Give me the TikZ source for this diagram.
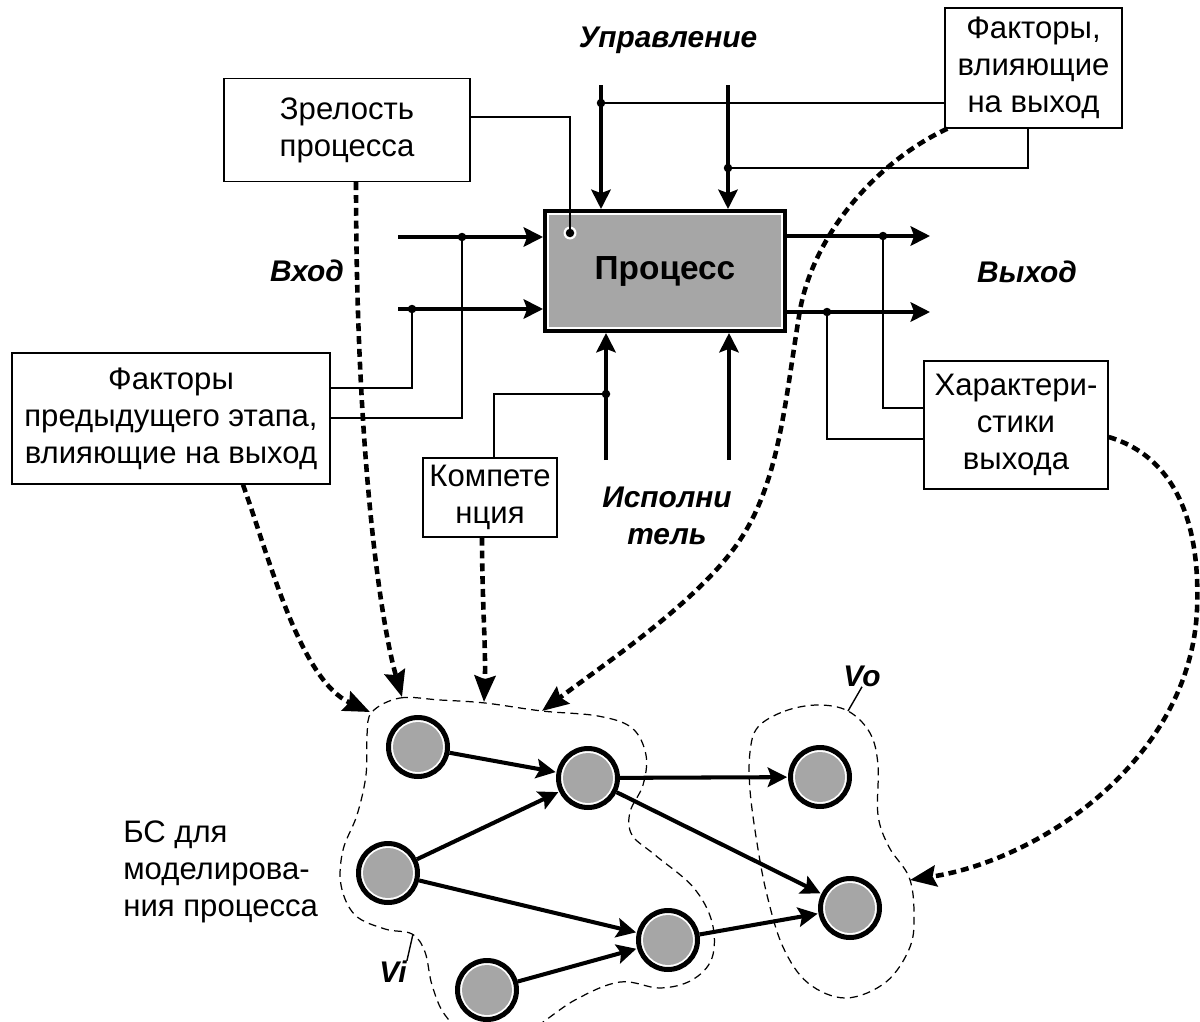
\documentclass[tikz,border=0pt]{standalone}
\usepackage{fontspec}
\setmainfont{Liberation Sans}
\usetikzlibrary{arrows.meta,calc}
\definecolor{fillgrey}{HTML}{A6A6A6}

\begin{document}
\begin{tikzpicture}[x=0.02cm,y=-0.02cm,
  every node/.style={font=\fontsize{17.7}{21}\selectfont},
  box/.style={draw, line width=0.8pt, align=center, inner sep=0pt},
  lbl/.style={font=\fontsize{17}{21}\selectfont\bfseries\itshape, align=center, inner sep=0pt},
  wire/.style={line width=0.9pt},
  thickarr/.style={line width=2.3pt, -{Stealth[length=11pt,width=11pt,inset=2pt]}},
  garr/.style={line width=2.3pt, -{Stealth[length=11pt,width=11pt,inset=2pt]}, shorten >=0.5pt},
  dotarr/.style={line width=2.6pt, dash pattern=on 4.5pt off 2.8pt, -{Stealth[length=15pt,width=12pt,inset=2pt]}},
  blob/.style={line width=0.7pt, dash pattern=on 4.5pt off 3pt},
  jdot/.style={circle, fill=black, inner sep=0pt, minimum size=0.17cm},
  gnode/.style={circle, draw, line width=0.1cm, minimum size=1.18cm, inner sep=0pt, fill=white,
    path picture={\fill[fillgrey] (path picture bounding box.center) circle (0.5cm);}},
]
\useasboundingbox (0,0) rectangle (1200,1021);
\clip (0,0) rectangle (1200,1021);

% ---------- process block ----------
\node[draw, line width=0.08cm, fill=fillgrey, minimum width=4.8cm, minimum height=2.4cm, inner sep=0pt] (proc) at (665,271) {};
\draw[white, line width=1.2pt] ([shift={(0.1cm,-0.1cm)}]proc.north west) rectangle ([shift={(-0.1cm,0.1cm)}]proc.south east);
\node[font=\fontsize{19}{23}\selectfont\bfseries] (ptext) at (proc.center) {Процесс};

% ---------- text boxes ----------
\node[box, minimum width=4.92cm, minimum height=2.06cm] (zrel) at (347,130) {Зрелость\\процесса};
\node[box, minimum width=3.54cm, minimum height=2.4cm] (fout) at (1033.5,68) {Факторы,\\влияющие\\на выход};
\node[box, minimum width=6.36cm, minimum height=2.62cm] (fpred) at (171,418.5) {Факторы\\предыдущего этапа,\\влияющие на выход};
\node[box, minimum width=2.68cm, minimum height=1.58cm] (komp) at (490,497.5) {Компете\\нция};
\node[box, minimum width=3.68cm, minimum height=2.56cm] (har) at (1016,425) {Характери-\\стики\\выхода};

% ---------- labels ----------
\node[lbl] (upr) at (668,40) {Управление};
\node[lbl] (vhod) at (307,271) {Вход};
\node[lbl] (vyhod) at (1027,272) {Выход};
\node[lbl] (ispol) at (667,516) {Исполни\\тель};
\node[anchor=west, align=left, inner sep=0pt] (bs) at (123,872) {БС для\\моделирова-\\ния процесса};

% ---------- main arrows of the process ----------
\coordinate (u1) at (601,85);  \coordinate (u2) at (728,85);
\coordinate (p1) at (606,460); \coordinate (p2) at (729,460);
\coordinate (i1) at (398,237); \coordinate (i2) at (398,309);
\coordinate (o1) at (930,236); \coordinate (o2) at (930,312);
\draw[thickarr] (u1) -- (u1 |- proc.north);
\draw[thickarr] (u2) -- (u2 |- proc.north);
\draw[thickarr] (p1) -- (p1 |- proc.south);
\draw[thickarr] (p2) -- (p2 |- proc.south);
\draw[thickarr] (i1) -- (i1 -| proc.west);
\draw[thickarr] (i2) -- (i2 -| proc.west);
\draw[thickarr] (o1 -| proc.east) -- (o1);
\draw[thickarr] (o2 -| proc.east) -- (o2);

% ---------- thin wires with junction dots ----------
\node[jdot] (du1) at (601,103) {};
\node[jdot] (du2) at (728,168) {};
\node[jdot] (di1) at (462,237) {};
\node[jdot] (di2) at (412,309) {};
\node[jdot] (do1) at (883,236) {};
\node[jdot] (do2) at (827,312) {};
\node[jdot] (dp1) at (606,394) {};
\coordinate (k2) at (1028,168);
\coordinate (k3) at (570,117);
\coordinate (k4) at (462,418);
\coordinate (k5) at (412,388);
\coordinate (k6) at (883,408);
\coordinate (k7) at (827,439);
\coordinate (k8) at (494,394);
\draw[wire] (du1.center) -- (du1.center -| fout.west);
\draw[wire] (du2.center) -- (k2) -- (k2 |- fout.south);
\draw[wire] (di1.center) -- (k4) -- (k4 -| fpred.east);
\draw[wire] (di2.center) -- (k5) -- (k5 -| fpred.east);
\draw[wire] (do1.center) -- (k6) -- (k6 -| har.west);
\draw[wire] (do2.center) -- (k7) -- (k7 -| har.west);
\draw[wire] (dp1.center) -- (k8) -- (k8 |- komp.north);
\fill[white] (570,233) circle (0.13cm);
\node[jdot] (dz) at (570,233) {};
\draw[wire] (k3 -| zrel.east) -- (k3) -- (dz.center);

% ---------- graph ----------
\node[gnode] (c1) at (418,747) {};
\node[gnode] (c2) at (588,778) {};
\node[gnode] (c3) at (388,873) {};
\node[gnode] (c4) at (487,990) {};
\node[gnode] (c5) at (668,940) {};
\node[gnode] (c6) at (820,777) {};
\node[gnode] (c7) at (850,908) {};
\draw[garr] (c1) -- (c2);
\draw[garr] (c3) -- (c2);
\draw[garr] (c3) -- (c5);
\draw[garr] (c4) -- (c5);
\draw[garr] (c2) -- (c6);
\draw[garr] (c2) -- (c7);
\draw[garr] (c5) -- (c7);

% ---------- dashed outlines of the vertex sets ----------
\draw[blob] plot[smooth cycle, tension=0.6] coordinates {
  (372,712) (400,698) (440,700) (485,703) (542,711) (598,716) (632,728) (646,755)
  (643,785) (630,812) (632,835) (655,855) (693,887) (712,922) (712,958) (692,980)
  (660,988) (620,982) (575,1000) (520,1035) (470,1035) (445,1015) (432,985) (425,952)
  (412,934) (385,929) (355,915) (341,885) (343,850) (357,815) (366,775) (367,735)};
\draw[blob] plot[smooth cycle, tension=0.6] coordinates {
  (758,727) (785,711) (818,705) (848,711) (870,733) (878,765) (878,815) (889,847)
  (909,877) (914,912) (910,947) (886,982) (846,998) (808,983) (783,947) (767,895)
  (757,843) (750,790) (750,752)};
\node[lbl] (vi) at (393,972) {Vi};
\node[lbl] (vo) at (862,676) {Vo};
\coordinate (vit) at (413,934);
\coordinate (vot) at (848,711);
\draw[line width=0.8pt] (vit) -- (vi.north east);
\draw[line width=0.8pt] (vot) -- (vo.south);

% ---------- dotted influence arrows ----------
\coordinate (tz) at (402,697);
\coordinate (tf) at (370,712);
\coordinate (tk) at (484,702);
\coordinate (to) at (542,711);
\coordinate (th) at (910,880);
\draw[dotarr] ([xshift=0.18cm]zrel.south) .. controls (356,450) and (380,620) .. (tz);
\draw[dotarr] ([xshift=1.44cm]fpred.south) .. controls (270,560) and (300,680) .. (tf);
\draw[dotarr] ([xshift=-0.16cm]komp.south) .. controls (482,600) and (486,650) .. (tk);
\draw[dotarr] ([xshift=0.06cm]fout.south west) .. controls (880,160) and (815,230) .. (800,310)
  .. controls (785,400) and (780,480) .. (740,540) .. controls (700,600) and (610,660) .. (to);
\draw[dotarr] ([yshift=-0.24cm]har.east) .. controls (1185,460) and (1200,540) .. (1197,610)
  .. controls (1190,760) and (1040,860) .. (th);
\end{tikzpicture}
\end{document}
